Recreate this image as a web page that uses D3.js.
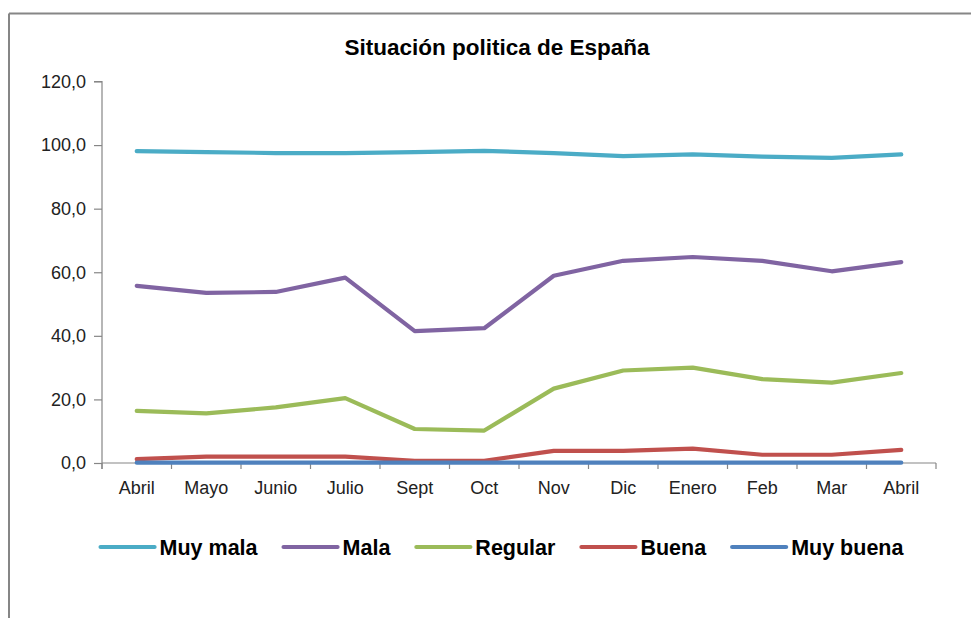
<!DOCTYPE html>
<html>
<head>
<meta charset="utf-8">
<script src="https://cdn.jsdelivr.net/npm/d3@7"></script>
<style>
  html, body { margin: 0; padding: 0; background: #fff; }
  svg { display: block; }
</style>
</head>
<body>
<svg id="chart" width="971" height="618"></svg>
<script>
const title = "Situación politica de España";
const categories = ["Abril","Mayo","Junio","Julio","Sept","Oct","Nov","Dic","Enero","Feb","Mar","Abril"];
const seriesNames = ["Muy mala","Mala","Regular","Buena","Muy buena"];
const seriesColors = ["#4BACC6","#8064A2","#9BBB59","#C0504D","#4F81BD"];
const muyMala  = [98.1, 97.8, 97.5, 97.5, 97.8, 98.2, 97.5, 96.5, 97.1, 96.4, 96.0, 97.1];
const mala     = [55.7, 53.5, 53.8, 58.3, 41.5, 42.4, 58.9, 63.6, 64.8, 63.6, 60.3, 63.2];
const regular  = [16.4, 15.6, 17.5, 20.4, 10.7, 10.2, 23.4, 29.1, 30.0, 26.4, 25.3, 28.3];
const buena    = [1.2, 2.0, 2.0, 2.0, 0.7, 0.7, 3.8, 3.8, 4.5, 2.6, 2.6, 4.1];
const muyBuena = [0.1, 0.1, 0.1, 0.1, 0.1, 0.1, 0.1, 0.1, 0.1, 0.1, 0.1, 0.1];
const yTicks = [0, 20, 40, 60, 80, 100, 120];

const seriesValues = [muyMala, mala, regular, buena, muyBuena];

const svg = d3.select("#chart");
const font = "'Liberation Sans', Arial, sans-serif";

// outer chart frame (only top and left visible)
svg.append("line").attr("x1", 9).attr("x2", 971).attr("y1", 13.5).attr("y2", 13.5)
  .attr("stroke", "#868686").attr("stroke-width", 2);
svg.append("line").attr("x1", 9).attr("x2", 9).attr("y1", 13.5).attr("y2", 618)
  .attr("stroke", "#868686").attr("stroke-width", 2);

const plot = { left: 102, right: 936, top: 81.5, bottom: 463 };

const x = d3.scaleBand().domain(d3.range(categories.length))
  .range([plot.left, plot.right]).paddingInner(0).paddingOuter(0);
const y = d3.scaleLinear().domain([0, 120]).range([plot.bottom, plot.top]);

// title
svg.append("text")
  .attr("x", 497).attr("y", 55)
  .attr("text-anchor", "middle")
  .attr("font-family", font).attr("font-weight", "bold").attr("font-size", 22.5)
  .attr("fill", "#000")
  .text(title);

// y axis
const yAxis = d3.axisLeft(y).tickValues(yTicks).tickSize(8).tickPadding(8)
  .tickFormat(d => d3.format(".1f")(d).replace(".", ","));
const gy = svg.append("g").attr("transform", `translate(${plot.left},0)`).call(yAxis);
gy.select(".domain").attr("stroke", "#868686").attr("stroke-width", 1.2)
  .attr("d", `M-8,${plot.top}H0V${plot.bottom + 6}`);
gy.selectAll(".tick line").attr("stroke", "#868686").attr("stroke-width", 1.2);
gy.selectAll(".tick text").attr("font-family", font).attr("font-size", 18).attr("fill", "#222");

// x axis
const xAxis = d3.axisBottom(x).tickSize(0).tickPadding(18).tickFormat(i => categories[i]);
const gx = svg.append("g").attr("transform", `translate(0,${plot.bottom})`).call(xAxis);
gx.select(".domain").attr("stroke", "#868686").attr("stroke-width", 1.2)
  .attr("d", `M${plot.left},0H${plot.right}`);
gx.selectAll(".tick text").attr("font-family", font).attr("font-size", 18).attr("fill", "#222");
// boundary ticks between categories
const bounds = d3.range(categories.length + 1).map(i => plot.left + i * x.bandwidth());
gx.selectAll(".bt").data(bounds).join("line").attr("class", "bt")
  .attr("x1", d => d).attr("x2", d => d).attr("y1", 0).attr("y2", 6)
  .attr("stroke", "#868686").attr("stroke-width", 1.2);

// lines
const line = d3.line()
  .x((d, i) => x(i) + x.bandwidth() / 2)
  .y(d => y(d));
seriesValues.forEach((vals, si) => {
  svg.append("path")
    .datum(vals)
    .attr("d", line)
    .attr("fill", "none")
    .attr("stroke", seriesColors[si])
    .attr("stroke-width", 4.2)
    .attr("stroke-linejoin", "round")
    .attr("stroke-linecap", "round");
});

// legend
const legend = svg.append("g");
const lineLen = 54, textGap = 5, itemGap = 26;
let cx = 0;
seriesNames.forEach((name, i) => {
  const g = legend.append("g");
  g.append("line").attr("x1", 0).attr("x2", lineLen).attr("y1", 0).attr("y2", 0)
    .attr("stroke", seriesColors[i]).attr("stroke-width", 4.2).attr("stroke-linecap", "round");
  const t = g.append("text").attr("x", lineLen + textGap).attr("y", 0).attr("dy", "0.35em")
    .attr("font-family", font).attr("font-weight", "bold").attr("font-size", 21.5)
    .attr("fill", "#000").text(name);
  const w = lineLen + textGap + t.node().getComputedTextLength();
  g.attr("transform", `translate(${cx},0)`);
  cx += w + itemGap;
});
const totalW = cx - itemGap;
legend.attr("transform", `translate(${502 - totalW / 2},547)`);
</script>
</body>
</html>
